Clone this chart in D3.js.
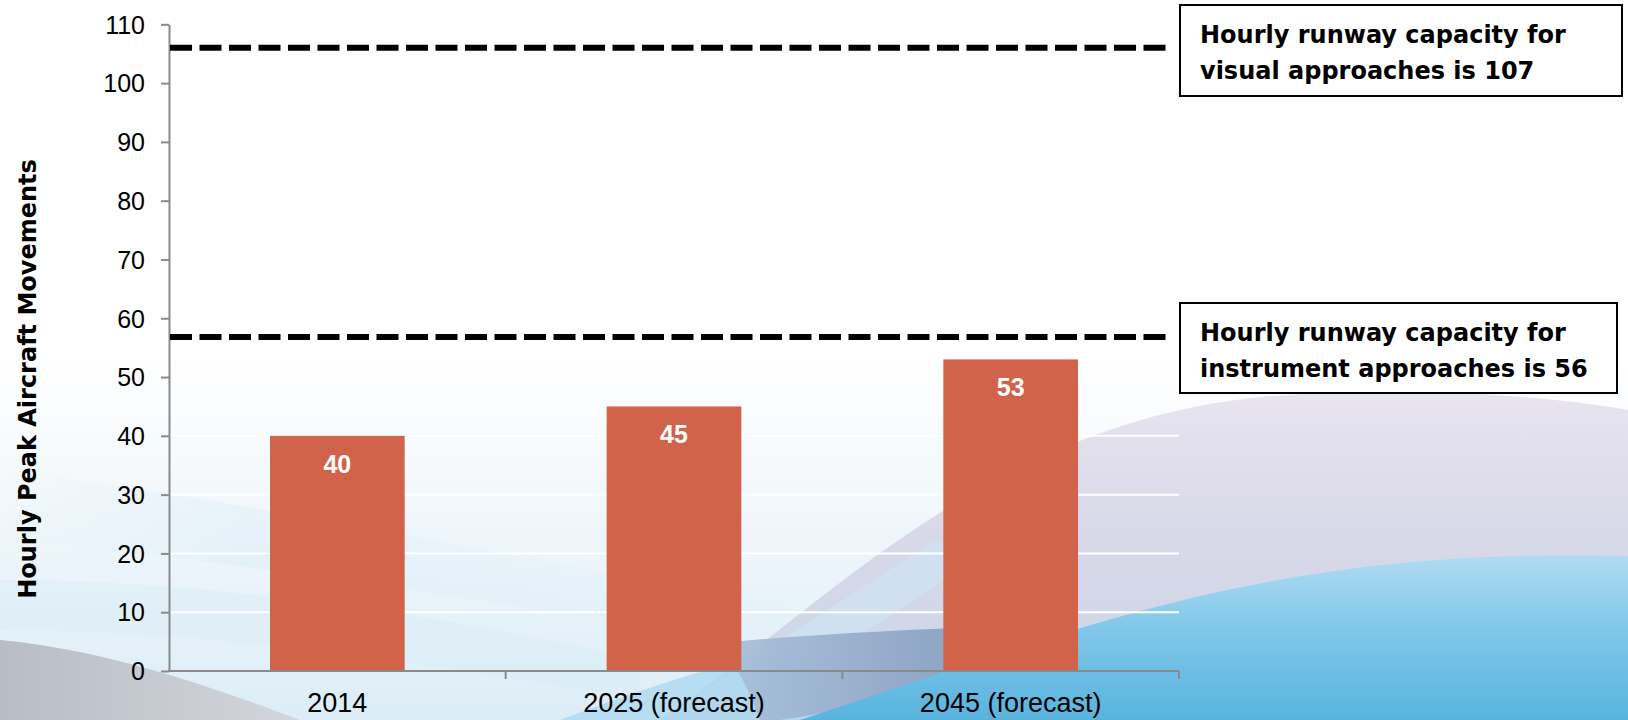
<!DOCTYPE html>
<html>
<head>
<meta charset="utf-8">
<script src="https://cdn.jsdelivr.net/npm/d3@7"></script>
<style>
  html, body { margin: 0; padding: 0; background: #ffffff; }
  svg { display: block; }
</style>
</head>
<body>
<svg id="chart" width="1628" height="720"></svg>
<script>
// ---- data ----
const categories = ["2014", "2025 (forecast)", "2045 (forecast)"];
const peakMovements = [40, 45, 53];
const yTicks = [0, 10, 20, 30, 40, 50, 60, 70, 80, 90, 100, 110];
const capacityLines = [106, 56.8];
const capacityLabels = [
  ["Hourly runway capacity for", "visual approaches is 107"],
  ["Hourly runway capacity for", "instrument approaches is 56"]
];
const yTitle = "Hourly Peak Aircraft Movements";

const svg = d3.select("#chart");
const W = 1628, H = 720;

// ---- background decoration ----
const defs = svg.append("defs");
function grad(id, horiz, stops) {
  const g = defs.append("linearGradient").attr("id", id)
    .attr("x1", 0).attr("y1", 0).attr("x2", horiz ? 1 : 0).attr("y2", horiz ? 0 : 1);
  stops.forEach(s => g.append("stop").attr("offset", s[0]).attr("stop-color", s[1]).attr("stop-opacity", s[2] == null ? 1 : s[2]));
}
grad("gBase", false, [[0, "#ffffff"], [0.3, "#f5f9fc"], [1, "#dcedf7"]]);
grad("gPurple", false, [[0, "#e8e4f0"], [0.45, "#d8d8e8"], [1, "#c8d6ea"]]);
grad("gBlue", false, [[0, "#b0dcf1"], [0.45, "#80c7ea"], [1, "#58b4de"]]);
grad("gSteel", true, [[0, "#a9bfd8"], [0.6, "#8ba3c3"], [1, "#7d97bb"]]);
grad("gGrey", true, [[0, "#b8bcc4"], [1, "#d3d6dc"]]);
grad("gStreak", true, [[0, "#d3e8f5", 0.0], [0.3, "#d3e8f5", 0.7], [1, "#d6eaf6", 0.1]]);

const bg = svg.append("g");
bg.append("rect").attr("x", 0).attr("y", 360).attr("width", W).attr("height", H - 360).attr("fill", "url(#gBase)");
// light streaks on the left
bg.append("path").attr("d", "M0,470 C250,500 520,560 820,610 L820,650 C520,610 250,560 0,540 Z").attr("fill", "url(#gStreak)").attr("opacity", 0.45);
bg.append("path").attr("d", "M0,580 C200,580 420,610 640,660 L640,700 C420,660 200,630 0,630 Z").attr("fill", "#d6eaf6").attr("opacity", 0.4);
// purple hill
bg.append("path").attr("d", "M660,720 C820,610 980,430 1250,398 C1400,384 1540,395 1628,410 L1628,720 Z").attr("fill", "url(#gPurple)");
// light blue diagonal over purple hill left edge
bg.append("path").attr("d", "M690,700 C780,640 860,590 935,540 L975,560 C900,610 820,660 760,700 Z").attr("fill", "#cfe4f3").attr("opacity", 0.7);
// light blue under middle
bg.append("path").attr("d", "M560,720 C640,690 720,662 800,648 L840,720 Z").attr("fill", "#a5d6ef").attr("opacity", 0.7);
// steel band
bg.append("path").attr("d", "M720,643 C800,635 900,630 1000,626 L1050,650 C970,685 880,705 780,720 L760,720 C750,690 735,665 720,643 Z").attr("fill", "url(#gSteel)").attr("opacity", 0.9);
// blue wave
bg.append("path").attr("d", "M800,720 C920,680 1050,632 1200,596 C1340,564 1470,552 1628,556 L1628,720 Z").attr("fill", "url(#gBlue)");
// grey wedge bottom-left
bg.append("path").attr("d", "M0,640 C110,650 220,690 300,720 L0,720 Z").attr("fill", "url(#gGrey)");

// ---- scales ----
const x = d3.scaleBand().domain(categories).range([169, 1179]).paddingInner(0.6).paddingOuter(0.3);
const y = d3.scaleLinear().domain([0, 110]).range([671, 24.3]);

// gridlines
svg.append("g").selectAll("line").data(yTicks.filter(d => d > 0)).join("line")
  .attr("x1", x.range()[0]).attr("x2", x.range()[1])
  .attr("y1", d => y(d)).attr("y2", d => y(d))
  .attr("stroke", "#ffffff").attr("stroke-width", 2);

// bars
svg.append("g").selectAll("rect").data(categories).join("rect")
  .attr("x", d => x(d)).attr("width", x.bandwidth())
  .attr("y", (d, i) => y(peakMovements[i]))
  .attr("height", (d, i) => y(0) - y(peakMovements[i]))
  .attr("fill", "#d0634a");

// bar labels
svg.append("g").selectAll("text").data(categories).join("text")
  .attr("x", d => x(d) + x.bandwidth() / 2)
  .attr("y", (d, i) => y(peakMovements[i]) + 37)
  .attr("text-anchor", "middle")
  .attr("font-family", "Liberation Sans, Arial, sans-serif")
  .attr("font-weight", "bold").attr("font-size", 25)
  .attr("fill", "#ffffff")
  .text((d, i) => peakMovements[i]);

// y axis
const yAxis = svg.append("g").attr("transform", `translate(${x.range()[0]},0)`)
  .call(d3.axisLeft(y).tickValues(yTicks).tickSize(8).tickSizeOuter(0).tickPadding(16));
yAxis.select(".domain").attr("stroke", "#8a8a8a").attr("stroke-width", 2);
yAxis.selectAll(".tick line").attr("stroke", "#8a8a8a").attr("stroke-width", 2);
yAxis.selectAll(".tick text").attr("font-family", "Liberation Sans, Arial, sans-serif")
  .attr("font-size", 25).attr("fill", "#000").attr("dy", "0.35em");

// x axis
const xAxis = svg.append("g").attr("transform", `translate(0,${y(0)})`)
  .call(d3.axisBottom(x).tickSize(0).tickSizeOuter(0).tickPadding(22));
xAxis.select(".domain").remove();
xAxis.selectAll(".tick text").attr("font-family", "Liberation Sans, Arial, sans-serif")
  .attr("font-size", 27).attr("fill", "#000");
const xBounds = categories.map((d, i) => x.range()[0] + (i + 1) * x.step());
const xl = svg.append("g");
xl.append("line").attr("x1", x.range()[0] - 1).attr("x2", x.range()[1])
  .attr("y1", y(0)).attr("y2", y(0)).attr("stroke", "#8a8a8a").attr("stroke-width", 2);
xl.selectAll("line.tk").data(xBounds).join("line").attr("class", "tk")
  .attr("x1", d => d).attr("x2", d => d).attr("y1", y(0)).attr("y2", y(0) + 8)
  .attr("stroke", "#8a8a8a").attr("stroke-width", 2);

// capacity dashed lines
svg.append("g").selectAll("line").data(capacityLines).join("line")
  .attr("x1", x.range()[0] + 1).attr("x2", 1168)
  .attr("y1", d => y(d)).attr("y2", d => y(d))
  .attr("stroke", "#000").attr("stroke-width", 6)
  .attr("stroke-dasharray", "22,7.5");

// annotation boxes
const boxes = [{ x: 1180, y: 5, w: 442, h: 91 }, { x: 1180, y: 303, w: 437, h: 90 }];
boxes.forEach((b, i) => {
  const g = svg.append("g");
  g.append("rect").attr("x", b.x).attr("y", b.y).attr("width", b.w).attr("height", b.h)
    .attr("fill", "#fff").attr("stroke", "#000").attr("stroke-width", 2);
  capacityLabels[i].forEach((t, j) => {
    g.append("text").attr("x", b.x + 20).attr("y", b.y + 38 + j * 36)
      .attr("font-family", "DejaVu Sans, Verdana, sans-serif")
      .attr("font-weight", "bold").attr("font-size", 24).attr("fill", "#000")
      .text(t);
  });
});

// y title
svg.append("text").attr("transform", "translate(36,379) rotate(-90)")
  .attr("text-anchor", "middle")
  .attr("font-family", "DejaVu Sans, Verdana, sans-serif")
  .attr("font-weight", "bold").attr("font-size", 24).attr("fill", "#000")
  .text(yTitle);
</script>
</body>
</html>
